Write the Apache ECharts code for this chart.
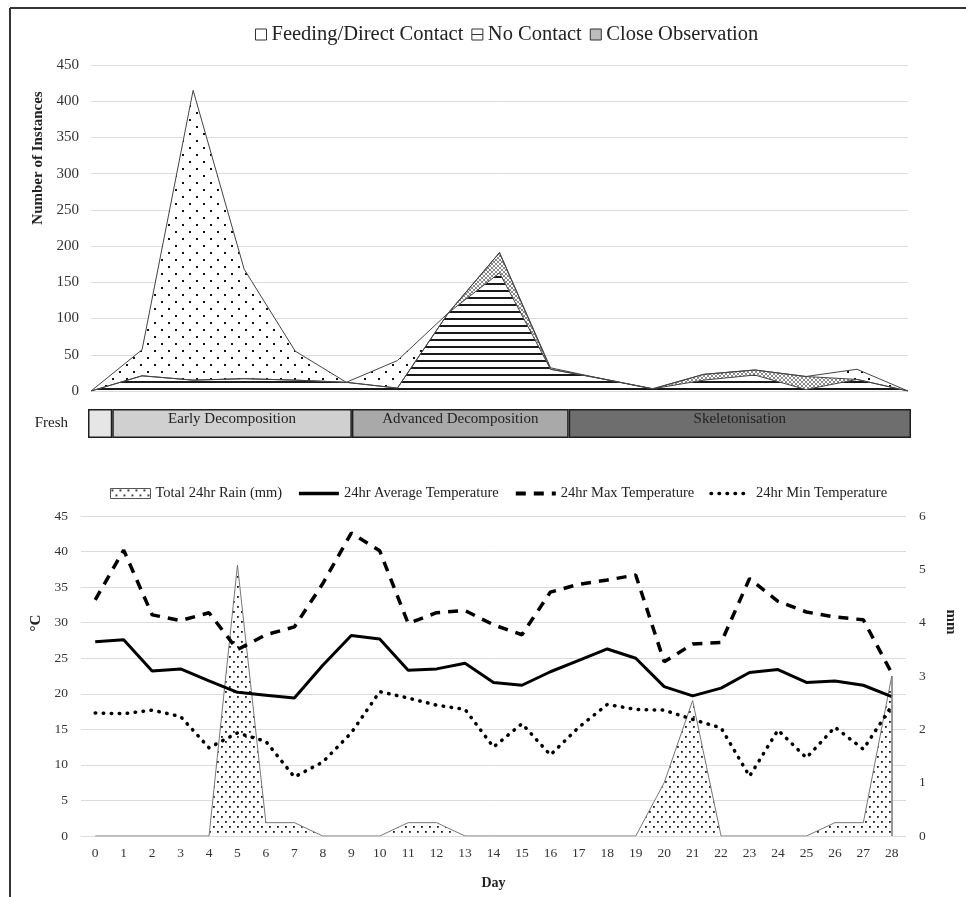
<!DOCTYPE html>
<html><head><meta charset="utf-8">
<script src="https://cdn.jsdelivr.net/npm/echarts@6/dist/echarts.min.js"></script>
<style>html,body{margin:0;padding:0;background:#fff}#c{width:966px;height:897px}</style>
</head><body><div id="c"></div>
<script>
// ---------- Top panel: behaviour counts (stacked areas) ----------
const obsIndex = ['0','1','2','3','4','5','6','7','8','9','10','11','12','13','14','15','16'];
const noContact        = [0, 21,  15,  17, 15, 12,  4, 108, 163, 30, 17, 3, 15, 22,  2, 16, 0];
const closeObservation = [0,  0,   0,   0,  0,  0,  0,   0,  28,  0,  0, 0,  8,  7, 18,  0, 0];
const feedingDirect    = [0, 36, 400, 151, 40,  0, 38,   0,   0,  2,  0, 0,  0,  0,  0, 14, 0];
const topTicks = {min: 0, max: 450, interval: 50};

// ---------- Decomposition stages ----------
const stageNames = ['Fresh', 'Early Decomposition', 'Advanced Decomposition', 'Skeletonisation'];
const stageSpan  = [0.85, 8.4, 7.6, 12.0];
const stageColors = ['#e6e6e6', '#d0d0d0', '#a9a9a9', '#6e6e6e'];

// ---------- Bottom panel: weather ----------
const days = ['0','1','2','3','4','5','6','7','8','9','10','11','12','13','14','15','16','17','18','19','20','21','22','23','24','25','26','27','28'];
const rainMm  = [0,0,0,0,0,5.08,0.25,0.25,0,0,0,0.25,0.25,0,0,0,0,0,0,0,1.0,2.54,0,0,0,0,0.25,0.25,3.0];
const avgTemp = [27.3,27.6,23.2,23.5,21.8,20.2,19.8,19.4,24.0,28.2,27.7,23.3,23.5,24.3,21.6,21.2,23.1,24.7,26.3,25.0,21.0,19.7,20.8,23.0,23.4,21.6,21.8,21.2,19.6];
const maxTemp = [33.2,40.2,31.1,30.3,31.4,26.2,28.3,29.4,35.5,42.6,40.1,29.9,31.4,31.7,29.7,28.3,34.3,35.4,36.0,36.7,24.5,27.0,27.2,36.2,33.0,31.5,30.8,30.4,22.9];
const minTemp = [17.3,17.2,17.7,16.8,12.4,14.5,13.3,8.3,10.4,14.5,20.3,19.4,18.4,17.8,12.5,15.8,11.4,15.3,18.5,17.8,17.7,16.4,15.2,8.4,14.9,11.0,15.3,12.2,18.3];
const tempTicks = {min: 0, max: 45, interval: 5};
const rainTicks = {min: 0, max: 6, interval: 1};

const FONT = 'Liberation Serif';

function makePattern(w, h, draw) {
  const c = document.createElement('canvas');
  c.width = w; c.height = h;
  const g = c.getContext('2d');
  g.fillStyle = '#fff'; g.fillRect(0, 0, w, h);
  draw(g);
  return {image: c, repeat: 'repeat'};
}
const dotsTop = makePattern(14, 14, g => { g.fillStyle = '#111'; g.fillRect(0, 0, 2, 2); g.fillRect(7, 7, 2, 2); });
const hLines = makePattern(8, 7, g => { g.fillStyle = '#1a1a1a'; g.fillRect(0, 3, 8, 2); });
const cross = makePattern(4, 4, g => {
  g.fillStyle = '#8a8a8a';
  [[0,0],[1,1],[2,2],[3,3],[0,3],[1,2],[2,1],[3,0]].forEach(p => g.fillRect(p[0], p[1], 1, 1));
});
const rainDots = makePattern(8, 10, g => { g.fillStyle = '#1a1a1a'; g.fillRect(1, 1, 1.8, 1.8); g.fillRect(5, 6, 1.8, 1.8); });

const stageSeries = stageNames.map((n, i) => ({
  name: n, type: 'bar', stack: 'stage', xAxisIndex: 1, yAxisIndex: 1,
  barWidth: 29, data: [stageSpan[i]],
  itemStyle: {color: stageColors[i], borderColor: '#1e1e1e', borderWidth: 1.5},
  label: i === 0
    ? {show: true, formatter: n, position: 'left', distance: 20, fontFamily: FONT, fontSize: 15, color: '#222'}
    : {show: true, formatter: n, position: 'insideTop', distance: 3, fontFamily: FONT, fontSize: 15, color: '#222'},
  silent: true
}));

const hideSym = {opacity: 0};

const chart = echarts.init(document.getElementById('c'));
chart.setOption({
  animation: false,
  backgroundColor: '#fff',
  textStyle: {fontFamily: FONT},
  graphic: [
    {type: 'line', shape: {x1: 10, y1: 8, x2: 10, y2: 897}, style: {stroke: '#333', lineWidth: 2}},
    {type: 'line', shape: {x1: 10, y1: 8, x2: 966, y2: 8}, style: {stroke: '#333', lineWidth: 2}}
  ],
  legend: [
    {
      top: 19, left: 250, itemWidth: 11, itemHeight: 11, itemGap: 8,
      textStyle: {fontFamily: FONT, fontSize: 20.5, color: '#222'},
      data: [
        {name: 'Feeding/Direct Contact', icon: 'rect', itemStyle: {color: '#fff', borderColor: '#333', borderWidth: 1}},
        {name: 'No Contact', icon: 'path://M0,0H10V10H0ZM0,5H10', itemStyle: {color: '#fff', borderColor: '#333', borderWidth: 1}},
        {name: 'Close Observation', icon: 'rect', itemStyle: {color: '#bdbdbd', borderColor: '#333', borderWidth: 1}}
      ]
    },
    {
      top: 481, left: 105, itemWidth: 40, itemHeight: 10, itemGap: 15,
      textStyle: {fontFamily: FONT, fontSize: 14.5, color: '#222'},
      data: [
        {name: 'Total 24hr Rain (mm)', icon: 'rect', itemStyle: {color: rainDots, borderColor: '#555', borderWidth: 1}},
        {name: '24hr Average Temperature', itemStyle: hideSym, lineStyle: {width: 3.5}},
        {name: '24hr Max Temperature', itemStyle: hideSym, lineStyle: {width: 4}},
        {name: '24hr Min Temperature', itemStyle: hideSym, lineStyle: {width: 3.5}}
      ]
    }
  ],
  grid: [
    {left: 91, right: 58, top: 65, bottom: 506},
    {left: 88, right: 55, top: 409, height: 29},
    {left: 81, right: 58, top: 516, bottom: 61}
  ],
  xAxis: [
    {type: 'category', gridIndex: 0, data: obsIndex, boundaryGap: false,
     axisLabel: {show: false}, axisTick: {show: false}, axisLine: {show: false}},
    {type: 'value', gridIndex: 1, min: 0, max: stageSpan.reduce((a, b) => a + b, 0), show: false},
    {type: 'category', gridIndex: 2, data: days, boundaryGap: true,
     axisTick: {show: false}, axisLine: {show: false},
     axisLabel: {fontFamily: FONT, fontSize: 13.5, color: '#333', margin: 10},
     name: 'Day', nameLocation: 'middle', nameGap: 40,
     nameTextStyle: {fontFamily: FONT, fontSize: 14, fontWeight: 'bold', color: '#222'}}
  ],
  yAxis: [
    {type: 'value', gridIndex: 0, min: topTicks.min, max: topTicks.max, interval: topTicks.interval,
     axisLine: {show: false}, axisTick: {show: false},
     axisLabel: {fontFamily: FONT, fontSize: 15, color: '#333', margin: 12},
     splitLine: {lineStyle: {color: '#dcdcdc', width: 1}},
     name: 'Number of Instances', nameLocation: 'middle', nameRotate: 90, nameGap: 44,
     nameTextStyle: {fontFamily: FONT, fontSize: 15, fontWeight: 'bold', color: '#222', padding: [0, 0, 0, 140]}},
    {type: 'category', gridIndex: 1, data: ['stage'], show: false},
    {type: 'value', gridIndex: 2, min: tempTicks.min, max: tempTicks.max, interval: tempTicks.interval,
     axisLine: {show: false}, axisTick: {show: false},
     axisLabel: {fontFamily: FONT, fontSize: 13.5, color: '#333', margin: 13},
     splitLine: {lineStyle: {color: '#dcdcdc', width: 1}},
     name: '°C', nameLocation: 'middle', nameRotate: 90, nameGap: 35,
     nameTextStyle: {fontFamily: FONT, fontSize: 15, fontWeight: 'bold', color: '#222', padding: [0, 0, 0, 106]}},
    {type: 'value', gridIndex: 2, position: 'right', min: rainTicks.min, max: rainTicks.max, interval: rainTicks.interval,
     axisLine: {show: false}, axisTick: {show: false}, splitLine: {show: false},
     axisLabel: {fontFamily: FONT, fontSize: 13.5, color: '#333', margin: 13},
     name: 'mm', nameLocation: 'middle', nameRotate: -90, nameGap: 37,
     nameTextStyle: {fontFamily: FONT, fontSize: 15, fontWeight: 'bold', color: '#222', padding: [0, 108, 0, 0]}}
  ],
  series: [
    {name: 'No Contact', type: 'line', stack: 'beh', xAxisIndex: 0, yAxisIndex: 0, data: noContact,
     symbol: 'none', lineStyle: {color: '#444', width: 1}, areaStyle: {color: hLines, opacity: 1}, color: '#444'},
    {name: 'Close Observation', type: 'line', stack: 'beh', xAxisIndex: 0, yAxisIndex: 0, data: closeObservation,
     symbol: 'none', lineStyle: {color: '#444', width: 1}, areaStyle: {color: cross, opacity: 1}, color: '#444'},
    {name: 'Feeding/Direct Contact', type: 'line', stack: 'beh', xAxisIndex: 0, yAxisIndex: 0, data: feedingDirect,
     symbol: 'none', lineStyle: {color: '#444', width: 1}, areaStyle: {color: dotsTop, opacity: 1}, color: '#444'},
    ...stageSeries,
    {name: 'Total 24hr Rain (mm)', type: 'line', xAxisIndex: 2, yAxisIndex: 3, data: rainMm,
     symbol: 'none', lineStyle: {color: '#777', width: 1}, areaStyle: {color: rainDots, opacity: 1}, color: '#555',
     markLine: {silent: true, symbol: 'none', label: {show: false},
       lineStyle: {color: '#777', width: 1.5, type: 'solid'},
       data: [[{coord: [days[days.length - 1], 0]}, {coord: [days[days.length - 1], rainMm[rainMm.length - 1]]}]]}},
    {name: '24hr Average Temperature', type: 'line', xAxisIndex: 2, yAxisIndex: 2, data: avgTemp,
     symbol: 'none', color: '#000', lineStyle: {color: '#000', width: 3}},
    {name: '24hr Max Temperature', type: 'line', xAxisIndex: 2, yAxisIndex: 2, data: maxTemp,
     symbol: 'none', color: '#000', lineStyle: {color: '#000', width: 3.5, type: [10, 8]}},
    {name: '24hr Min Temperature', type: 'line', xAxisIndex: 2, yAxisIndex: 2, data: minTemp,
     symbol: 'none', color: '#000', lineStyle: {color: '#000', width: 3.5, type: [0.5, 7.5], cap: 'round'}}
  ]
});
</script>
</body></html>
